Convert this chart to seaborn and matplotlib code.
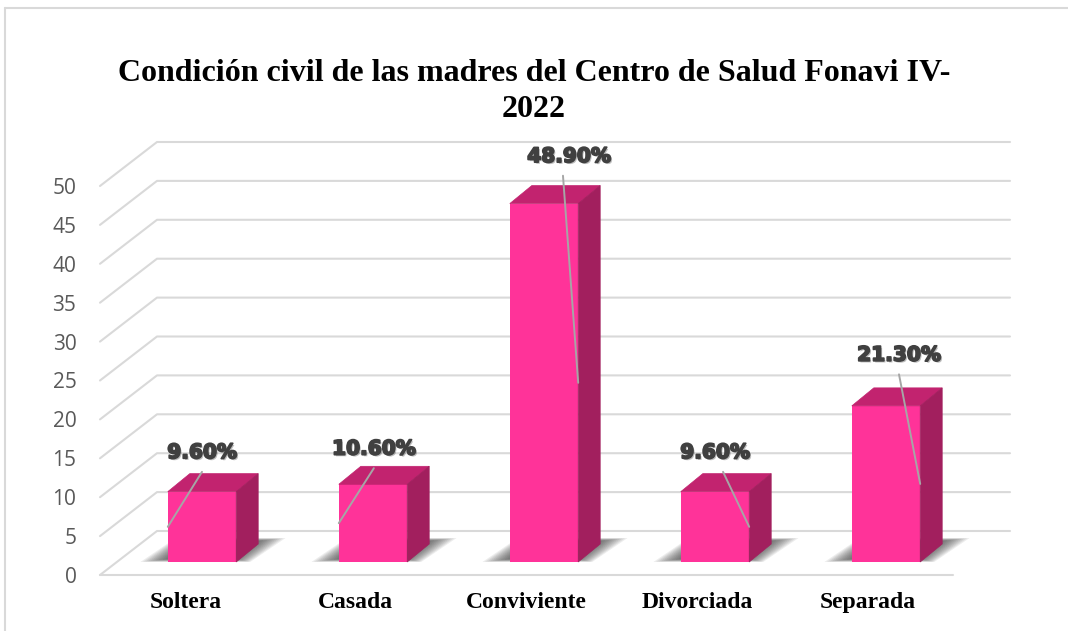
import numpy as np
import pandas as pd
import matplotlib
matplotlib.use("Agg")
import matplotlib.pyplot as plt
import matplotlib.patheffects as pe
import seaborn as sns
from matplotlib.patches import Polygon
from matplotlib.lines import Line2D

# ---------------- data ----------------
categories = ["Soltera", "Casada", "Conviviente", "Divorciada", "Separada"]
values = [9.6, 10.6, 48.9, 9.6, 21.3]
value_labels = ["9.60%", "10.60%", "48.90%", "9.60%", "21.30%"]
y_ticks = list(range(0, 55, 5))
title = "Condición civil de las madres del Centro de Salud Fonavi IV-\n2022"

# ---------------- style / placement ----------------
label_dx = [0.0, 0.005, 0.146, 0.0, 0.076]
label_dy = [5.3, 4.8, 6.4, 5.3, 6.9]
leader_dx = [0.0, 0.0, -0.035, 0.047, 0.0]
leader_side = [-1, -1, 1, 1, 1]

C_FRONT = "#FF3399"
C_TOP = "#C2236F"
C_SIDE = "#A21F5E"
C_GRID = "#D9D9D9"

W, H, DPI = 1068, 631, 100
sns.set_theme(style="white")
plt.rcParams['font.family'] = ['DejaVu Sans']

fig = plt.figure(figsize=(W / DPI, H / DPI), dpi=DPI)
fig.patch.set_facecolor("white")


def px_axes(left, right, bottom, top, z=0):
    ax = fig.add_axes([left / W, 1 - bottom / H, (right - left) / W, (bottom - top) / H], zorder=z)
    ax.patch.set_alpha(0)
    return ax


# ---------- front plane axes (walls + ticks + category labels) ----------
axg = px_axes(100, 953, 575, 186, z=0)
axg.set_xlim(-0.5, 4.5)
axg.set_ylim(0, 50)
for s in axg.spines.values():
    s.set_visible(False)

WALL_OFF = np.array([57.0, 44.0])  # depth of the chart box in pixels


def disp_to_data(ax, pts):
    return ax.transData.inverted().transform(pts)


for t in y_ticks:
    p_front = axg.transData.transform([(-0.5, t)])[0]
    p_right = axg.transData.transform([(4.5, t)])[0]
    back_l = p_front + WALL_OFF
    back_r = p_right + WALL_OFF
    pts = disp_to_data(axg, np.array([p_front, back_l, back_r]))
    axg.add_line(Line2D(pts[:, 0], pts[:, 1], color=C_GRID, lw=1.5, clip_on=False, zorder=1))
# floor front edge
axg.add_line(Line2D([-0.5, 4.5], [0, 0], color=C_GRID, lw=1.5, clip_on=False, zorder=1))

axg.set_yticks(y_ticks)
axg.set_yticklabels([str(t) for t in y_ticks], fontfamily="Open Sans", fontsize=15, color="#595959")
axg.set_xticks(range(len(categories)))
axg.set_xticklabels(categories, fontfamily="Liberation Serif", fontweight="bold", fontsize=17, color="black")
axg.tick_params(axis="y", length=0, pad=17)
axg.tick_params(axis="x", length=0, pad=12)
axg.grid(False)

# ---------- bars axes ----------
SCALE = 7.33
axb = px_axes(116.5, 971.5, 562, 562 - 50 * SCALE, z=2)
df = pd.DataFrame({"cat": categories, "val": values})
sns.barplot(data=df, x="cat", y="val", ax=axb, color=C_FRONT, saturation=1, width=0.4,
            edgecolor="none", linewidth=0, zorder=5)
axb.set_xlim(-0.5, 4.5)
axb.set_ylim(0, 50)
axb.axis("off")

BAR_OFF = np.array([22.0, 18.0])
hw = 0.2

for i, v in enumerate(values):
    # soft shadow on the floor
    fl, fr = axb.transData.transform([(i - hw, 0), (i + hw, 0)])
    base = np.array([fl, fr, fr + BAR_OFF, fl + BAR_OFF])
    centre = base.mean(axis=0) + np.array([0.0, 3.0])
    for k in range(12):
        sx = 1.0 + 0.055 * k
        sy = 1.0 + 0.03 * k
        poly = (base - base.mean(axis=0)) * np.array([sx, sy]) + centre
        axb.add_patch(Polygon(disp_to_data(axb, poly), closed=True, facecolor="#2e2e2e",
                              edgecolor="none", alpha=0.085, zorder=2, clip_on=False))
    # top face
    tl, tr = axb.transData.transform([(i - hw, v), (i + hw, v)])
    top = np.array([tl, tr, tr + BAR_OFF, tl + BAR_OFF])
    axb.add_patch(Polygon(disp_to_data(axb, top), closed=True, facecolor=C_TOP,
                          edgecolor=C_TOP, lw=0.5, zorder=6, clip_on=False))
    # side face
    side = np.array([fr, tr, tr + BAR_OFF, fr + BAR_OFF])
    axb.add_patch(Polygon(disp_to_data(axb, side), closed=True, facecolor=C_SIDE,
                          edgecolor=C_SIDE, lw=0.5, zorder=6, clip_on=False))

# data labels + leader lines
for i, v in enumerate(values):
    lx, ly = i + label_dx[i], v + label_dy[i]
    axb.text(lx, ly, value_labels[i], ha="center", va="center", fontsize=14.5,
             fontweight="bold", color="#404040", zorder=10, clip_on=False,
             path_effects=[pe.SimplePatchShadow(offset=(1.2, -1.2), shadow_rgbFace="#000000", alpha=0.25),
                           pe.withStroke(linewidth=1.3, foreground="#404040")])
    axb.add_line(Line2D([lx + leader_dx[i], i + leader_side[i] * hw], [ly - 2.6, v / 2],
                        color="#A6A6A6", lw=1.4, zorder=9, clip_on=False))

# ---------- title ----------
fig.text(534 / W, 1 - 59 / H, title, ha="center", va="top", fontfamily="Liberation Serif",
         fontweight="bold", fontsize=23, linespacing=1.3, color="black")

# ---------- chart border ----------
fig.add_artist(Line2D([4.5 / W, 1.0], [1 - 8 / H, 1 - 8 / H], transform=fig.transFigure,
                      color=C_GRID, lw=1.5))
fig.add_artist(Line2D([4.5 / W, 4.5 / W], [1 - 8 / H, 0.0], transform=fig.transFigure,
                      color=C_GRID, lw=1.5))

fig.savefig("out.png", dpi=DPI)
